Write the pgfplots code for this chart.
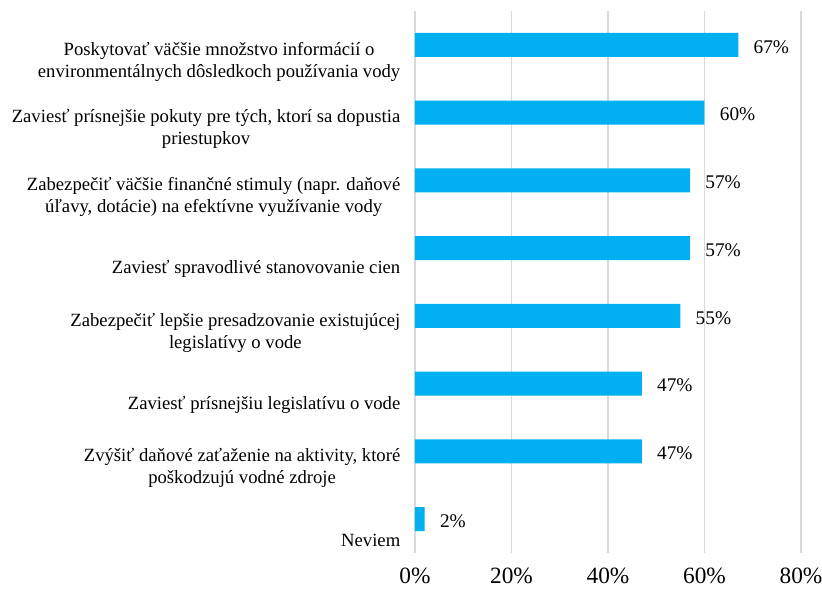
\documentclass[border=0pt]{standalone}
\usepackage{pgfplots}
\pgfplotsset{compat=1.18}
\usepackage{fontspec}
\setmainfont{Liberation Serif}
\definecolor{barblue}{HTML}{00B0F0}
\definecolor{gridgray}{HTML}{D9D9D9}

\begin{document}
\begin{tikzpicture}
\begin{axis}[
    scale only axis,
    width=289.5pt, height=406.5pt,
    xbar, bar width=18pt,
    xmin=0, xmax=80,
    ymin=-0.5, ymax=7.5,
    y dir=reverse,
    axis line style={draw=none},
    major tick length=0pt,
    xtick={0,20,40,60,80},
    xticklabel={\pgfmathprintnumber{\tick}\%},
    xmajorgrids=true,
    grid style={gridgray, line width=1.1pt},
    /pgf/number format/assume math mode=true,
    xticklabel style={font=\fontsize{17.5}{20}\selectfont, yshift=-8pt},
    ytick={0,1,2,3,4,5,6,7},
    yticklabels={
        {Poskytovať väčšie množstvo informácií o\\environmentálnych dôsledkoch používania vody},
        {Zaviesť prísnejšie pokuty pre tých, ktorí sa dopustia\\priestupkov},
        {Zabezpečiť väčšie finančné stimuly (napr. daňové\\úľavy, dotácie) na efektívne využívanie vody},
        {\mbox{}\\Zaviesť spravodlivé stanovovanie cien},
        {Zabezpečiť lepšie presadzovanie existujúcej\\legislatívy o vode},
        {\mbox{}\\Zaviesť prísnejšiu legislatívu o vode},
        {Zvýšiť daňové zaťaženie na aktivity, ktoré\\poškodzujú vodné zdroje},
        {\mbox{}\\Neviem}
    },
    yticklabel style={font=\fontsize{14}{16.5}\selectfont, align=center, yshift=-12.5pt, xshift=-7.5pt},
    nodes near coords={\pgfmathprintnumber{\pgfplotspointmeta}\%},
    nodes near coords style={font=\fontsize{14.5}{16}\selectfont, anchor=west, xshift=8pt, yshift=-1.5pt, text=black},
]
\addplot[draw=none, fill=barblue] coordinates {
    (67,0) (60,1) (57,2) (57,3) (55,4) (47,5) (47,6) (2,7)
};
\end{axis}
\pgfresetboundingbox
\path ([xshift=-311.25pt,yshift=-28.5pt]current axis.south west) rectangle ([xshift=15.75pt,yshift=8.25pt]current axis.north east);
\end{tikzpicture}
\end{document}
